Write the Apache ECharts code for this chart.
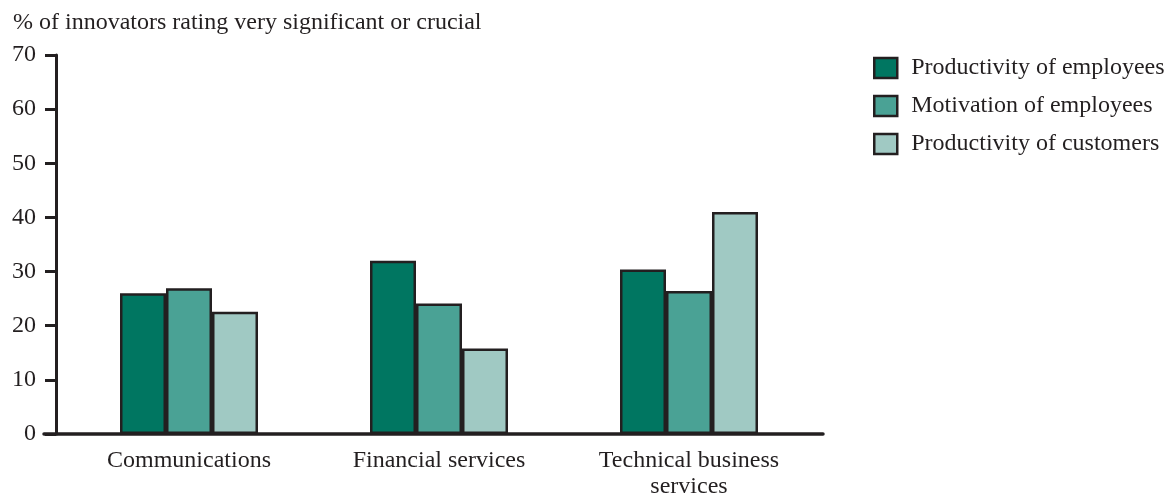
<!DOCTYPE html>
<html><head><meta charset="utf-8">
<script src="https://cdn.jsdelivr.net/npm/echarts@6/dist/echarts.min.js"></script>
<style>html,body{margin:0;padding:0;background:#fff}#c{width:1167px;height:495px}</style>
</head><body><div id="c"></div>
<script>
const categories = ['Communications', 'Financial services', 'Technical business\nservices'];
const seriesNames = ['Productivity of employees', 'Motivation of employees', 'Productivity of customers'];
const prodEmployees = [26.0, 32.0, 30.4];
const motivEmployees = [26.9, 24.1, 26.4];
const prodCustomers = [22.6, 15.8, 41.0];
const yTicks = [0, 10, 20, 30, 40, 50, 60, 70];
const colors = ['#007661', '#4aa295', '#a0c9c3'];
const FONT = 'Liberation Serif';
const ink = '#231f20';

const chart = echarts.init(document.getElementById('c'), null, {renderer: 'canvas'});
const values = [prodEmployees, motivEmployees, prodCustomers];
chart.setOption({
  animation: false,
  textStyle: {fontFamily: FONT, color: ink},
  title: {text: '% of innovators rating very significant or crucial', left: 8, top: 6,
    textStyle: {fontFamily: FONT, fontWeight: 'normal', fontSize: 24, color: ink}},
  legend: {orient: 'vertical', left: 868, top: 51, itemWidth: 23, itemHeight: 20, itemGap: 14,
    icon: 'rect',
    textStyle: {fontFamily: FONT, fontSize: 24, color: ink, padding: [0,0,0,9]},
    itemStyle: {borderColor: ink, borderWidth: 2.5},
    data: seriesNames},
  grid: [
    {left: 64, width: 750, top: 55, bottom: 61, containLabel: false, outerBoundsMode: 'none'},
    {left: 44, right: 344, top: 55, bottom: 61, outerBoundsMode: 'none'}
  ],
  xAxis: [
    {type: 'category', data: categories, gridIndex: 0,
     axisLine: {show: false}, axisTick: {show: false},
     axisLabel: {fontFamily: FONT, fontSize: 24, color: ink, margin: 14, lineHeight: 26, interval: 0}},
    {type: 'value', gridIndex: 1, min: 0, max: 1, show: true,
     axisLine: {show: true, lineStyle: {color: ink, width: 3.5}}, axisTick: {show: false},
     axisLabel: {show: false}, splitLine: {show: false}}
  ],
  yAxis: [
    {type: 'value', gridIndex: 0, min: yTicks[0], max: yTicks[yTicks.length-1], interval: 10, offset: 8,
     axisLine: {show: true, lineStyle: {color: ink, width: 3}},
     axisTick: {show: true, length: 11, lineStyle: {color: ink, width: 3}},
     axisLabel: {fontFamily: FONT, fontSize: 24, color: ink, margin: 20},
     splitLine: {show: false}},
    {type: 'value', gridIndex: 1, show: false, min: 0, max: 1}
  ],
  series: seriesNames.map((n, i) => ({
    name: n, type: 'bar', xAxisIndex: 0, yAxisIndex: 0, data: values[i],
    barWidth: 46, barGap: '0%',
    itemStyle: {color: colors[i], borderColor: ink, borderWidth: 2.5}
  }))
});
</script></body></html>
